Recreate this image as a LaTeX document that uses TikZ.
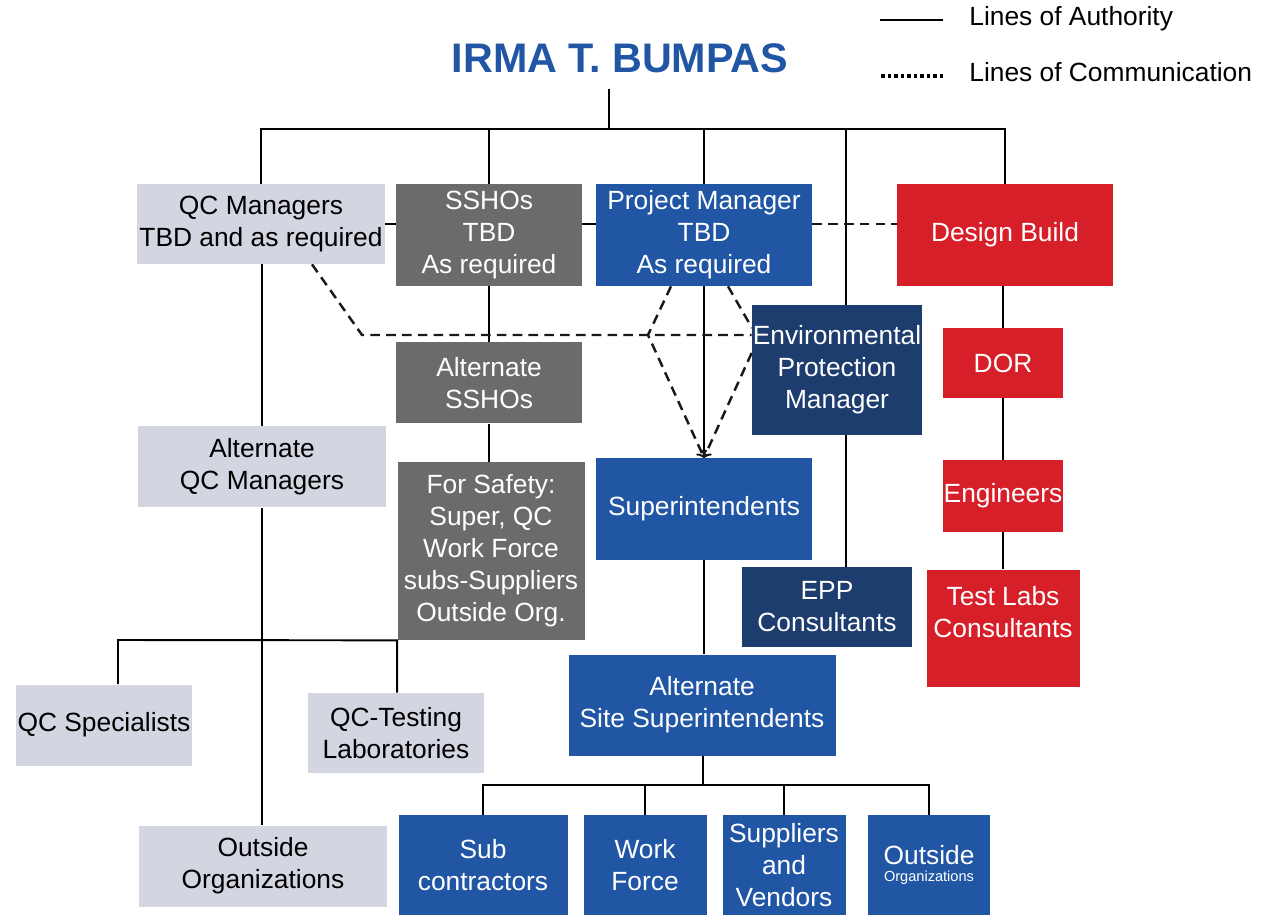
\documentclass[tikz,border=0pt]{standalone}
\usepackage{fontspec}
\setmainfont{Liberation Sans}
\usetikzlibrary{backgrounds}
\definecolor{qcgray}{RGB}{211,213,224}
\definecolor{safegray}{RGB}{107,107,107}
\definecolor{pmblue}{RGB}{33,86,165}
\definecolor{envnavy}{RGB}{28,61,110}
\definecolor{dbred}{RGB}{215,31,42}
\tikzset{
  boxsize/.style 2 args={minimum width={#1*0.02cm}, minimum height={#2*0.02cm}},
  orgbox/.style={inner sep=0pt, align=center, font=\fontsize{15}{18.2}\selectfont},
  qcbox/.style={orgbox, fill=qcgray, text=black},
  safebox/.style={orgbox, fill=safegray, text=white},
  pmbox/.style={orgbox, fill=pmblue, text=white},
  envbox/.style={orgbox, fill=envnavy, text=white},
  dbbox/.style={orgbox, fill=dbred, text=white},
  authline/.style={line width=1.1pt},
  commline/.style={line width=1.4pt, dash pattern=on 5.5pt off 3.5pt, black!90},
}
\begin{document}
\begin{tikzpicture}[x=0.02cm, y=-0.02cm]
\useasboundingbox (0,0) rectangle (1275,915);
\node[font=\fontsize{23.5}{27}\selectfont\bfseries, text=pmblue, inner sep=9pt] (title) at (620,58) {IRMA T. BUMPAS};
\node[anchor=west, inner sep=0pt, font=\fontsize{15}{18}\selectfont] (authtxt) at (969,19) {Lines of Authority};
\node[anchor=west, inner sep=0pt, font=\fontsize{15}{18}\selectfont] (commtxt) at (969,72) {Lines of Communication};
\node[qcbox, boxsize={248}{80}] (qcm) at (261,224) {QC Managers\\TBD and as required};
\node[safebox, boxsize={186}{102}] (ssho) at (489,235) {SSHOs\\TBD\\As required};
\node[pmbox, boxsize={216}{102}] (pm) at (704,235) {Project Manager\\TBD\\As required};
\node[dbbox, boxsize={216}{102}] (db) at (1005,235) {Design Build};
\node[safebox, boxsize={186}{81}] (altssho) at (489,383) {Alternate\\SSHOs};
\node[envbox, boxsize={170}{130}] (epm) at (837,370) {Environmental\\Protection\\Manager};
\node[dbbox, boxsize={120}{70}] (dor) at (1003,363) {DOR};
\node[qcbox, boxsize={248}{81}] (altqc) at (262,467) {Alternate\\QC Managers};
\node[safebox, boxsize={187}{178}] (safety) at (491,551) {For Safety:\\Super, QC\\Work Force\\subs-Suppliers\\Outside Org.};
\node[pmbox, boxsize={216}{102}] (supt) at (704,509) {Superintendents};
\node[dbbox, boxsize={120}{71}] (eng) at (1003,496) {Engineers};
\node[envbox, boxsize={170}{80}] (epp) at (827,607) {EPP\\Consultants};
\node[dbbox, boxsize={153}{117}] (tlabs) at (1003,628) {Test Labs\\Consultants\\\mbox{}};
\node[pmbox, boxsize={267}{101}] (altsite) at (702,705) {Alternate\\Site Superintendents};
\node[qcbox, boxsize={176}{81}] (qcspec) at (104,725) {QC Specialists};
\node[qcbox, boxsize={176}{80}] (qctest) at (396,733) {QC-Testing\\Laboratories};
\node[qcbox, boxsize={248}{81}] (outorg) at (263,866) {Outside\\Organizations};
\node[pmbox, boxsize={169}{100}] (sub) at (483,865) {Sub\\contractors};
\node[pmbox, boxsize={123}{100}] (wf) at (645,865) {Work\\Force};
\node[pmbox, boxsize={123}{100}] (supp) at (784,865) {Suppliers\\and\\Vendors};
\node[pmbox, boxsize={122}{100}] (outs) at (929,865) {Outside\\[-8pt]{\fontsize{8.3}{9}\selectfont Organizations}};
\coordinate (topbus) at (609,129);
\coordinate (envline) at (846,129);
\coordinate (qcbus) at (118,640);
\coordinate (botbus) at (703,785);
\coordinate (c1) at (362,335);
\coordinate (c2) at (648,335);
\coordinate (c3) at (752,328);
\begin{scope}[on background layer]
\draw[authline] (authtxt.west) ++(-26,1) -- ++(-63,0);
\draw[line width=2pt, dash pattern=on 1.8pt off 1.9pt] (commtxt.west) ++(-26,4) -- ++(-63,0);
\draw[authline] (title.south -| topbus) -- (topbus);
\draw[authline] (qcm.north) -- (qcm.north |- topbus) -- (db.north |- topbus) -- (db.north);
\draw[authline] (ssho.north |- topbus) -- (ssho.north);
\draw[authline] (pm.north |- topbus) -- (pm.north);
\draw[authline] (envline) -- (envline |- epp.north);
\draw[authline] (qcm.east) -- (ssho.west |- qcm.east);
\draw[authline] (ssho.east |- qcm.east) -- (pm.west |- qcm.east);
\draw[commline] (pm.east |- qcm.east) -- (db.west |- qcm.east);
\draw[authline] (ssho.south) -- (altssho.north);
\draw[authline] (altssho.south) -- (altssho.south |- safety.north);
\draw[authline] (altqc.north |- qcm.south) -- (altqc.north);
\draw[authline] (altqc.south) -- (altqc.south |- outorg.north);
\draw[authline] (qcbus |- qcspec.north) -- (qcbus) -- (safety.south west) -- (safety.south west |- qctest.north);
\draw[authline] (pm.south) -- (supt.north);
\draw[authline] (supt.south) -- (supt.south |- altsite.north);
\draw[authline] (botbus |- altsite.south) -- (botbus);
\draw[authline] (sub.north) -- (sub.north |- botbus) -- (outs.north |- botbus) -- (outs.north);
\draw[authline] (wf.north |- botbus) -- (wf.north);
\draw[authline] (supp.north |- botbus) -- (supp.north);
\draw[authline] (dor.north |- db.south) -- (dor.north);
\draw[authline] (dor.south) -- (eng.north);
\draw[authline] (eng.south) -- (tlabs.north);
\draw[commline] (qcm.south) ++(51,0) -- (c1) -- (c1 -| epm.west);
\draw[commline, ->] (pm.south) ++(-33,0) -- (c2) -- (supt.north);
\draw[commline] (pm.south) ++(24,0) -- (c3);
\draw[commline, ->] (epm.west) ++(0,-17) -- (supt.north);
\end{scope}
\end{tikzpicture}
\end{document}
